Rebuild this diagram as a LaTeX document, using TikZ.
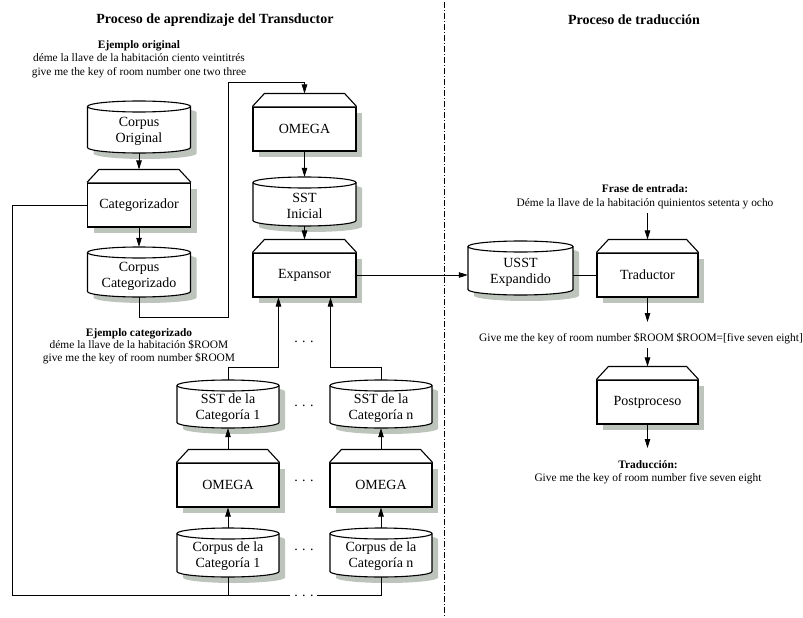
\documentclass[tikz,border=0pt]{standalone}
\usepackage{fontspec}
\setmainfont{Liberation Serif}
\usetikzlibrary{arrows.meta,calc}

\definecolor{shadowc}{RGB}{188,196,188}

\tikzset{
  boxline/.style={line width=1.1pt},
  procbody/.style={boxline, draw, fill=white, inner sep=0pt, minimum height=44pt,
    font=\fontsize{14}{16}\selectfont, align=center},
  dbframe/.style={inner sep=0pt},
  dbtext/.style={inner sep=0pt, font=\fontsize{14}{16}\selectfont, align=center},
  link/.style={line width=0.8pt},
  arr/.style={link, -{Triangle[length=9pt,width=5.5pt]}},
  note/.style={inner sep=0pt, anchor=base, font=\fontsize{11.4}{13}\selectfont},
  notebf/.style={note, font=\fontsize{11.4}{13}\selectfont\bfseries},
  head/.style={inner sep=0pt, anchor=base, font=\fontsize{14}{16}\selectfont\bfseries},
  dotsnode/.style={inner sep=0pt, anchor=base, font=\fontsize{14}{16}\selectfont},
  sepline/.style={line width=0.7pt, dash pattern=on 6pt off 2pt on 1pt off 2pt},
}

% process block: #1 name, #2 centre x, #3 body top, #4 body bottom, #5 width, #6 label
\newcommand{\procbox}[6]{%
  \fill[shadowc] ({#2-#5/2+6},{#3+6}) rectangle ({#2+#5/2+6},{#4+6});
  \node[procbody, minimum width=#5pt] (#1) at (#2,{(#3+#4)/2}) {#6};
  \draw[boxline, fill=white] (#1.north west) -- ++(12,-13)
     -- ($(#1.north east)+(-12,-13)$) -- (#1.north east);
  \coordinate (#1-t) at ($(#1.north)+(0,-13)$);
}

% data store (cylinder): #1 name, #2 centre x, #3 top, #4 bottom, #5 width, #6 label
\newcommand{\dbbox}[6]{%
  \pgfmathsetmacro\dbl{#2-#5/2}%
  \pgfmathsetmacro\dbr{#2+#5/2}%
  \pgfmathsetmacro\dbt{#3+5.5}%
  \pgfmathsetmacro\dbb{#4-5.5}%
  \pgfmathsetmacro\dbrx{#5/2}%
  \pgfmathsetmacro\dbh{#4-#3}%
  \fill[shadowc, shift={(6,6)}] (\dbl,\dbt) -- (\dbl,\dbb)
     arc[start angle=180, end angle=0, x radius=\dbrx, y radius=5.5]
     -- (\dbr,\dbt)
     arc[start angle=0, end angle=-180, x radius=\dbrx, y radius=5.5] -- cycle;
  \draw[boxline, fill=white] (\dbl,\dbt) -- (\dbl,\dbb)
     arc[start angle=180, end angle=0, x radius=\dbrx, y radius=5.5]
     -- (\dbr,\dbt)
     arc[start angle=0, end angle=-180, x radius=\dbrx, y radius=5.5] -- cycle;
  \draw[boxline] (\dbl,\dbt)
     arc[start angle=180, end angle=0, x radius=\dbrx, y radius=5.5];
  \node[dbframe, minimum width=#5pt, minimum height=\dbh pt] (#1) at (#2,{(#3+#4)/2}) {};
  \node[dbtext] (#1-l) at ($(#1)+(0,4)$) {#6};
}

\begin{document}
\begin{tikzpicture}[x=1pt, y=-1pt]
\useasboundingbox (0,0) rectangle (803,618);
\fill[white] (0,0) rectangle (803,618);

% ---------- headings ----------
\node[head] (hl) at (215,24) {Proceso de aprendizaje del Transductor};
\node[head] (hr) at (634,24.5) {Proceso de traducción};

% separator between the two halves
\coordinate (sa) at (444,2);
\coordinate (sb) at (444,616);
\draw[sepline] (sa) -- (sb);

% ---------- learning: left column ----------
\node[notebf] (exo1) at (139,48.5) {Ejemplo original};
\node[note]   (exo2) at (139,62) {déme la llave de la habitación ciento veintitrés};
\node[note]   (exo3) at (139,75) {give me the key of room number one two three};

\dbbox{corig}{139}{101}{153}{103}{Corpus\\Original}
\procbox{catz}{139}{183}{227}{103}{Categorizador}
\dbbox{ccat}{139}{247}{297}{103}{Corpus\\Categorizado}

\node[notebf] (exc1) at (139,336.5) {Ejemplo categorizado};
\node[note]   (exc2) at (139,348.5) {déme la llave de la habitación \$ROOM};
\node[note]   (exc3) at (139,361) {give me the key of room number \$ROOM};

% ---------- learning: middle column ----------
\procbox{omg}{304.5}{107}{151}{103}{OMEGA}
\dbbox{ssti}{304.5}{177}{226}{103}{SST\\Inicial}
\procbox{exp}{304.5}{253}{297}{103}{Expansor}

% ---------- learning: one chain per category ----------
\dbbox{sst1}{228}{380}{428}{102}{SST de la\\Categoría 1}
\procbox{omg1}{228}{463}{507}{102}{OMEGA}
\dbbox{cor1}{228}{528}{577}{102}{Corpus de la\\Categoría 1}

\dbbox{sstn}{381}{380}{428}{102}{SST de la\\Categoría n}
\procbox{omgn}{381}{463}{507}{102}{OMEGA}
\dbbox{corn}{381}{528}{577}{102}{Corpus de la\\Categoría n}

\node[dotsnode] (d1) at (304,342) {.\kern4.5pt.\kern4.5pt.};
\node[dotsnode] (d2) at (304,406) {.\kern4.5pt.\kern4.5pt.};
\node[dotsnode] (d3) at (304,481) {.\kern4.5pt.\kern4.5pt.};
\node[dotsnode] (d4) at (304,550) {.\kern4.5pt.\kern4.5pt.};
\node[dotsnode] (d5) at (304,596) {.\kern4.5pt.\kern4.5pt.};

% ---------- translation ----------
\node[notebf] (fr1) at (645,192.5) {Frase de entrada:};
\node[note]   (fr2) at (645,206.5) {Déme la llave de la habitación quinientos setenta y ocho};

\dbbox{usst}{520.5}{241}{295}{105}{USST\\Expandido}
\procbox{trad}{647.5}{253}{297}{101}{Traductor}

\node[note] (gv) at (641,341.5) {Give me the key of room number \$ROOM \$ROOM=[five seven eight]};

\procbox{post}{647.5}{380}{424}{101}{Postproceso}

\node[notebf] (tr1) at (648,468.5) {Traducción:};
\node[note]   (tr2) at (648,481.5) {Give me the key of room number five seven eight};

% ---------- connectors ----------
\coordinate (k2) at (228,317);
\coordinate (k3) at (228,82);
\coordinate (bl) at (12,595);
\coordinate (gl) at (290,595);
\coordinate (gr) at (317,595);
\coordinate (jy) at (0,367);
\coordinate (e1) at ($(exp.south west)!0.25!(exp.south east)$);
\coordinate (e2) at ($(exp.south west)!0.75!(exp.south east)$);
\coordinate (fin) at (647.5,213);
\coordinate (g1) at (647.5,322);
\coordinate (g2) at (647.5,348);
\coordinate (g3) at (647.5,448);

\draw[arr] (corig.south) -- (catz-t);
\draw[arr] (catz.south) -- (ccat.north);
\draw[arr] (ccat.south) |- (k2) -- (k3) -| (omg-t);
\draw[link] (catz.west) -| (bl) -- (gl);
\draw[link] (gr) -| (corn.south);
\draw[link] (cor1.south) -- (cor1.south |- bl);

\draw[arr] (omg.south) -- (ssti.north);
\draw[arr] (ssti.south) -- (exp-t);
\draw[arr] (exp.east) -- (exp.east -| usst.west);
\draw[link] (trad.west -| usst.east) -- (trad.west);

\draw[arr] (sst1.north) |- (e1 |- jy) -- (e1);
\draw[arr] (sstn.north) |- (e2 |- jy) -- (e2);

\draw[arr] (cor1.north) -- (omg1.south);
\draw[arr] (omg1-t) -- (sst1.south);
\draw[arr] (corn.north) -- (omgn.south);
\draw[arr] (omgn-t) -- (sstn.south);

\draw[arr] (fin) -- (trad-t);
\draw[arr] (trad.south) -- (g1);
\draw[arr] (g2) -- (post-t);
\draw[arr] (post.south) -- (g3);
\end{tikzpicture}
\end{document}
